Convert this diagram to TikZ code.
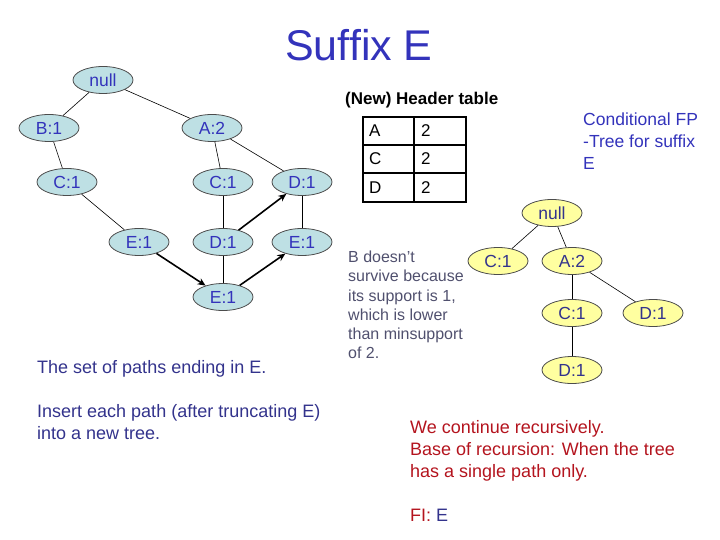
\documentclass[tikz,border=0pt]{standalone}
\usepackage{fontspec}
\setmainfont{Liberation Sans}
\usepackage{tikz}
\usetikzlibrary{arrows.meta,shapes.geometric}

\definecolor{titleblue}{RGB}{51,51,187}
\definecolor{textblue}{RGB}{51,51,140}
\definecolor{nodeblue}{RGB}{190,224,228}
\definecolor{nodeyellow}{RGB}{255,255,160}
\definecolor{notegray}{RGB}{80,80,110}
\definecolor{darkred}{RGB}{180,20,30}

\begin{document}
\begin{tikzpicture}[x=1bp,y=-1bp,
    tnode/.style={ellipse,draw=black!70,line width=0.8bp,fill=nodeblue,text=titleblue,
      minimum width=60bp,minimum height=27bp,inner sep=0pt,
      font=\fontsize{17.5bp}{17.5bp}\selectfont},
    cnode/.style={tnode,fill=nodeyellow,text=textblue},
    link/.style={draw=black,line width=0.6bp},
    move/.style={draw=black,line width=1.6bp,-{Stealth[length=8bp,width=7bp]}},
    txt/.style={anchor=west,inner sep=0pt,align=left}]
  \useasboundingbox (0,0) rectangle (720,540);

  \node[text=titleblue,font=\fontsize{43bp}{43bp}\selectfont] (title) at (359,45) {Suffix E};

  % paths ending in E
  \node[tnode] (null) at (103,80) {null};
  \node[tnode] (b1) at (49,128) {B:1};
  \node[tnode] (a2) at (212,128) {A:2};
  \node[tnode] (c1) at (67,182) {C:1};
  \node[tnode] (c2) at (223,182) {C:1};
  \node[tnode] (d3) at (302,182) {D:1};
  \node[tnode] (e1) at (139,242) {E:1};
  \node[tnode] (d2) at (223,242) {D:1};
  \node[tnode] (e3) at (302,242) {E:1};
  \node[tnode] (e4) at (223,297) {E:1};

  \draw[link] (null) -- (b1);
  \draw[link] (null) -- (a2);
  \draw[link] (b1) -- (c1);
  \draw[link] (c1) -- (e1);
  \draw[link] (a2) -- (c2);
  \draw[link] (a2) -- (d3);
  \draw[link] (c2) -- (d2);
  \draw[link] (d2) -- (e4);
  \draw[link] (d3) -- (e3);

  \draw[move] (d2) -- (d3);
  \draw[move] (e1) -- (e4);
  \draw[move] (e4) -- (e3);

  \node[txt,text=textblue,font=\fontsize{18bp}{22bp}\selectfont] (paths) at (37,369) {The set of paths ending in E.};
  \node[txt,text=textblue,font=\fontsize{18bp}{22bp}\selectfont,anchor=north west] (insert) at (37,404)
    {Insert each path (after truncating E)\\into a new tree.};

  % header table
  \node[txt,font=\fontsize{17bp}{17bp}\selectfont\bfseries] (header) at (345,100) {(New) Header table};
  \draw[line width=2.4bp] (363,117) rectangle (466,202);
  \draw[line width=1.8bp] (414,117) -- (414,202);
  \draw[line width=1.8bp] (363,145) -- (466,145);
  \draw[line width=1.8bp] (363,173) -- (466,173);
  \foreach \item/\y in {A/131,C/159,D/188} {
    \node[txt,font=\fontsize{17bp}{17bp}\selectfont] at (369,\y) {\item};
    \node[txt,font=\fontsize{17bp}{17bp}\selectfont] at (421,\y) {2};
  }

  \node[txt,text=titleblue,font=\fontsize{17.5bp}{22bp}\selectfont,anchor=north west] (cond) at (583,113)
    {Conditional FP\\-Tree for suffix\\E};

  % conditional tree
  \node[cnode] (rnull) at (552,213) {null};
  \node[cnode] (rc1) at (498,261) {C:1};
  \node[cnode] (ra2) at (572,261) {A:2};
  \node[cnode] (rc2) at (572,313) {C:1};
  \node[cnode] (rd1) at (653,313) {D:1};
  \node[cnode] (rd2) at (572,370) {D:1};

  \draw[link] (rnull) -- (rc1);
  \draw[link] (rnull) -- (ra2);
  \draw[link] (ra2) -- (rc2);
  \draw[link] (ra2) -- (rd1);
  \draw[link] (rc2) -- (rd2);

  \node[txt,text=notegray,font=\fontsize{16bp}{19.2bp}\selectfont,anchor=north west] (note) at (348,251)
    {B doesn't\\survive because\\its support is 1,\\which is lower\\than minsupport\\of 2.};

  \node[txt,text=darkred,font=\fontsize{18bp}{22bp}\selectfont,anchor=north west] (recur) at (410,420)
    {We continue recursively.\\Base of recursion: When the tree\\has a single path only.};
  \node[txt,text=darkred,font=\fontsize{18bp}{22bp}\selectfont] (fi) at (410,515) {FI: \textcolor{textblue}{E}};
\end{tikzpicture}
\end{document}
